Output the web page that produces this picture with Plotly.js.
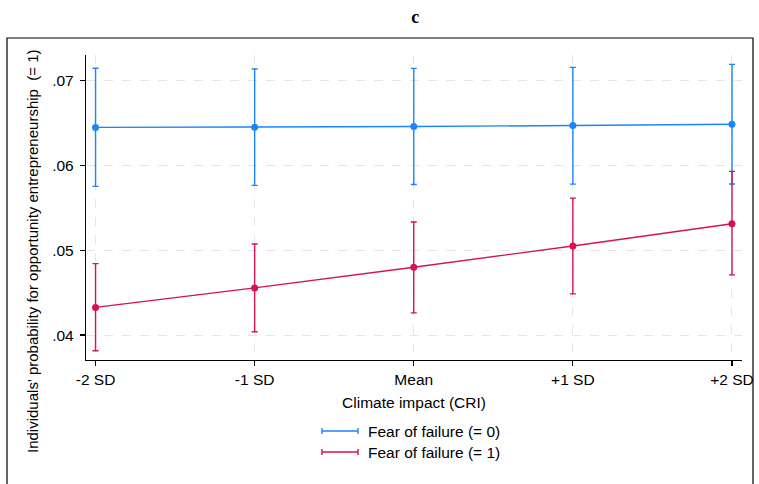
<!DOCTYPE html>
<html>
<head>
<meta charset="utf-8">
<script src="https://cdn.plot.ly/plotly-3.0.1.min.js"></script>
<style>html,body{margin:0;padding:0;background:#fff;}#chart{width:759px;height:484px;}</style>
</head>
<body>
<div id="chart"></div>
<script>
// ---- data ----
var categories = ["-2 SD", "-1 SD", "Mean", "+1 SD", "+2 SD"];
var seriesNames = ["Fear of failure (= 0)", "Fear of failure (= 1)"];
var fear0 = [0.06449, 0.06451, 0.06459, 0.06471, 0.06486];
var fear0Lo = [0.05753, 0.05765, 0.05776, 0.05780, 0.05781];
var fear0Hi = [0.07146, 0.07138, 0.07145, 0.07157, 0.07192];
var fear1 = [0.04326, 0.04556, 0.04800, 0.05051, 0.05313];
var fear1Lo = [0.03815, 0.04039, 0.04262, 0.04486, 0.04710];
var fear1Hi = [0.04842, 0.05074, 0.05333, 0.05615, 0.05930];
var yTickVals = [0.04, 0.05, 0.06, 0.07];
var yTickText = [".04", ".05", ".06", ".07"];

var colors = ["#1a85ff", "#d41159"];
var FONT = "'Liberation Sans', Arial, Helvetica, sans-serif";
var FS = 15.5;

var xIdx = categories.map(function (c, i) { return i; });

function mkTrace(y, lo, hi, color, name) {
  return {
    x: xIdx, y: y, name: name, type: "scatter", mode: "lines+markers",
    showlegend: false,
    line: {color: color, width: 1.4},
    marker: {color: color, size: 7},
    error_y: {
      type: "data", symmetric: false,
      array: hi.map(function (v, i) { return v - y[i]; }),
      arrayminus: lo.map(function (v, i) { return y[i] - v; }),
      color: color, thickness: 1.4, width: 3
    },
    cliponaxis: false
  };
}

var traces = [
  mkTrace(fear0, fear0Lo, fear0Hi, colors[0], seriesNames[0]),
  mkTrace(fear1, fear1Lo, fear1Hi, colors[1], seriesNames[1])
];

// plot-area geometry (pixels)
var L = 86, R = 742, T = 55, B = 360, W = 759, H = 484;
function px(x) { return (x - L) / (R - L); }
function py(y) { return (B - y) / (B - T); }

var shapes = [
  // outer frame
  {type: "rect", xref: "paper", yref: "paper", x0: px(7), x1: px(753), y0: py(495), y1: py(38),
   line: {color: "#000", width: 1.2}, layer: "below"}
];
var annotations = [
  {text: "Individuals' probability for opportunity entrepreneurship  (= 1)", textangle: -90,
   xref: "paper", yref: "paper", x: px(32), y: py(251), showarrow: false,
   font: {family: FONT, size: 15, color: "#000"}, xanchor: "center", yanchor: "middle"}
];
// legend drawn as line with caps + label
var legY = [431, 452];
for (var k = 0; k < 2; k++) {
  var yy = legY[k];
  shapes.push({type: "line", xref: "paper", yref: "paper", x0: px(322), x1: px(358), y0: py(yy), y1: py(yy),
    line: {color: colors[k], width: 1.4}});
  shapes.push({type: "line", xref: "paper", yref: "paper", x0: px(322), x1: px(322), y0: py(yy - 3), y1: py(yy + 3),
    line: {color: colors[k], width: 1.4}});
  shapes.push({type: "line", xref: "paper", yref: "paper", x0: px(358), x1: px(358), y0: py(yy - 3), y1: py(yy + 3),
    line: {color: colors[k], width: 1.4}});
  annotations.push({text: seriesNames[k], xref: "paper", yref: "paper", x: px(366), y: py(yy),
    xanchor: "left", yanchor: "middle", showarrow: false,
    font: {family: FONT, size: FS, color: "#000"}});
}

var layout = {
  width: W, height: H,
  margin: {l: L, r: W - R, t: T, b: H - B, pad: 0},
  paper_bgcolor: "#fff", plot_bgcolor: "#fff",
  showlegend: false,
  title: {text: "<b>c</b>", x: 0.502, xref: "paper", y: 1 - 17 / H, yref: "container",
    xanchor: "center", yanchor: "middle",
    font: {family: "'Liberation Serif', 'Times New Roman', serif", size: 18, color: "#000"}},
  xaxis: {
    range: [-0.06, 4.063], tickvals: xIdx, ticktext: categories,
    showline: true, linecolor: "#000", linewidth: 1.2, mirror: false,
    ticks: "outside", ticklen: 5, tickcolor: "#000", tickwidth: 1.2,
    showgrid: true, gridcolor: "#e6e6e6", griddash: "dash", gridwidth: 1,
    zeroline: false,
    tickfont: {family: FONT, size: FS, color: "#000"},
    title: {text: "Climate impact (CRI)", standoff: 10, font: {family: FONT, size: FS, color: "#000"}}
  },
  yaxis: {
    range: [0.037062, 0.073024], tickvals: yTickVals, ticktext: yTickText,
    showline: true, linecolor: "#000", linewidth: 1.2,
    ticks: "outside", ticklen: 5, tickcolor: "#000", tickwidth: 1.2,
    ticklabelstandoff: 3,
    showgrid: true, gridcolor: "#e6e6e6", griddash: "dash", gridwidth: 1,
    zeroline: false,
    tickfont: {family: FONT, size: FS, color: "#000"}
  },
  shapes: shapes,
  annotations: annotations
};

Plotly.newPlot("chart", traces, layout, {displayModeBar: false, staticPlot: true});
</script>
</body>
</html>
